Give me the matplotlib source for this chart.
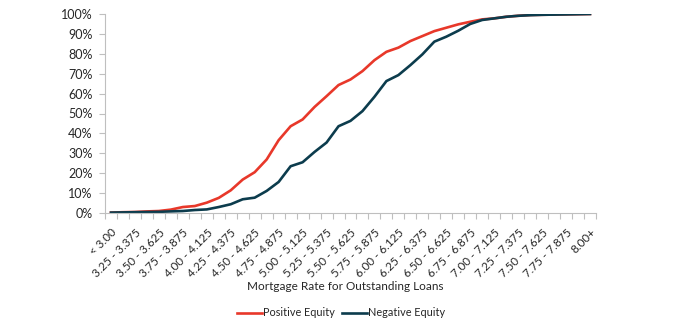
import matplotlib
matplotlib.use("Agg")
import matplotlib.pyplot as plt
from matplotlib.ticker import FixedLocator, PercentFormatter

# Rate buckets (41 categories, every other one labelled on the axis)
categories = [
    "< 3.00", "3.00 - 3.25",
    "3.25 - 3.375", "3.375 - 3.50", "3.50 - 3.625", "3.625 - 3.75",
    "3.75 - 3.875", "3.875 - 4.00", "4.00 - 4.125", "4.125 - 4.25",
    "4.25 - 4.375", "4.375 - 4.50", "4.50 - 4.625", "4.625 - 4.75",
    "4.75 - 4.875", "4.875 - 5.00", "5.00 - 5.125", "5.125 - 5.25",
    "5.25 - 5.375", "5.375 - 5.50", "5.50 - 5.625", "5.625 - 5.75",
    "5.75 - 5.875", "5.875 - 6.00", "6.00 - 6.125", "6.125 - 6.25",
    "6.25 - 6.375", "6.375 - 6.50", "6.50 - 6.625", "6.625 - 6.75",
    "6.75 - 6.875", "6.875 - 7.00", "7.00 - 7.125", "7.125 - 7.25",
    "7.25 - 7.375", "7.375 - 7.50", "7.50 - 7.625", "7.625 - 7.75",
    "7.75 - 7.875", "7.875 - 8.00", "8.00+",
]

# cumulative share of outstanding loans (%)
positive_equity = [
    0.2, 0.4, 0.5, 0.8, 1.0, 1.7, 3.0, 3.5, 5.2, 7.6,
    11.4, 16.8, 20.5, 26.9, 36.6, 43.6, 47.0, 53.3, 58.7, 64.3,
    67.1, 71.3, 76.8, 81.0, 83.1, 86.4, 88.9, 91.4, 93.1, 94.8,
    96.1, 97.3, 97.8, 98.6, 99.1, 99.5, 99.6, 99.7, 99.8, 99.9,
    100.0,
]
negative_equity = [
    0.2, 0.3, 0.4, 0.5, 0.6, 0.8, 1.0, 1.5, 1.8, 3.0,
    4.4, 6.9, 7.7, 11.1, 15.6, 23.5, 25.5, 30.7, 35.4, 43.6,
    46.3, 51.2, 58.4, 66.3, 69.3, 74.3, 79.7, 86.1, 88.6, 91.6,
    95.0, 97.0, 97.8, 98.6, 99.1, 99.4, 99.6, 99.7, 99.8, 99.9,
    100.0,
]

RED = "#e8382a"
DARK = "#0c3c4d"
AXIS = "#bfbfbf"
TEXT = "#262626"

plt.rcParams["font.family"] = ["Lato", "DejaVu Sans"]

fig = plt.figure(figsize=(6.77, 3.32), dpi=100)
ax = fig.add_axes([105 / 677, 1 - 213 / 332, 491 / 677, 199 / 332])

x = list(range(len(categories)))
ax.plot(x, positive_equity, color=RED, lw=1.9, label="Positive Equity",
        solid_joinstyle="round")
ax.plot(x, negative_equity, color=DARK, lw=1.9, label="Negative Equity",
        solid_joinstyle="round")

ax.set_xlim(-0.5, len(categories) - 0.5)
ax.set_ylim(0, 100)
ax.yaxis.set_major_locator(FixedLocator(range(0, 101, 10)))
ax.yaxis.set_major_formatter(PercentFormatter(decimals=0))

# labels at every other category, tick marks on category boundaries
ax.set_xticks(x[::2])
ax.set_xticklabels(categories[::2], rotation=45, ha="right", va="top",
                   rotation_mode="anchor", fontsize=8.4, color=TEXT)
ax.set_xticks([i - 0.5 for i in range(len(categories) + 1)], minor=True)
ax.tick_params(axis="x", which="major", length=0, pad=10)
ax.tick_params(axis="x", which="minor", length=4, color=AXIS, width=0.8)
ax.tick_params(axis="y", length=4, color=AXIS, width=0.8, labelsize=9,
               labelcolor=TEXT, pad=5)

for side in ["top", "right"]:
    ax.spines[side].set_visible(False)
for side in ["left", "bottom"]:
    ax.spines[side].set_color(AXIS)
    ax.spines[side].set_linewidth(0.8)

ax.set_xlabel("Mortgage Rate for Outstanding Loans", fontsize=8.5,
              color=TEXT, va="center")
ax.xaxis.set_label_coords(0.49, -(287 - 213) / 199)

fig.legend(loc="center", bbox_to_anchor=(341 / 677, 1 - 313 / 332), ncol=2,
           frameon=False, fontsize=7.8, handlelength=2.3, handletextpad=0.1,
           columnspacing=0.7, labelcolor=TEXT)

fig.savefig("out.png", dpi=100)
